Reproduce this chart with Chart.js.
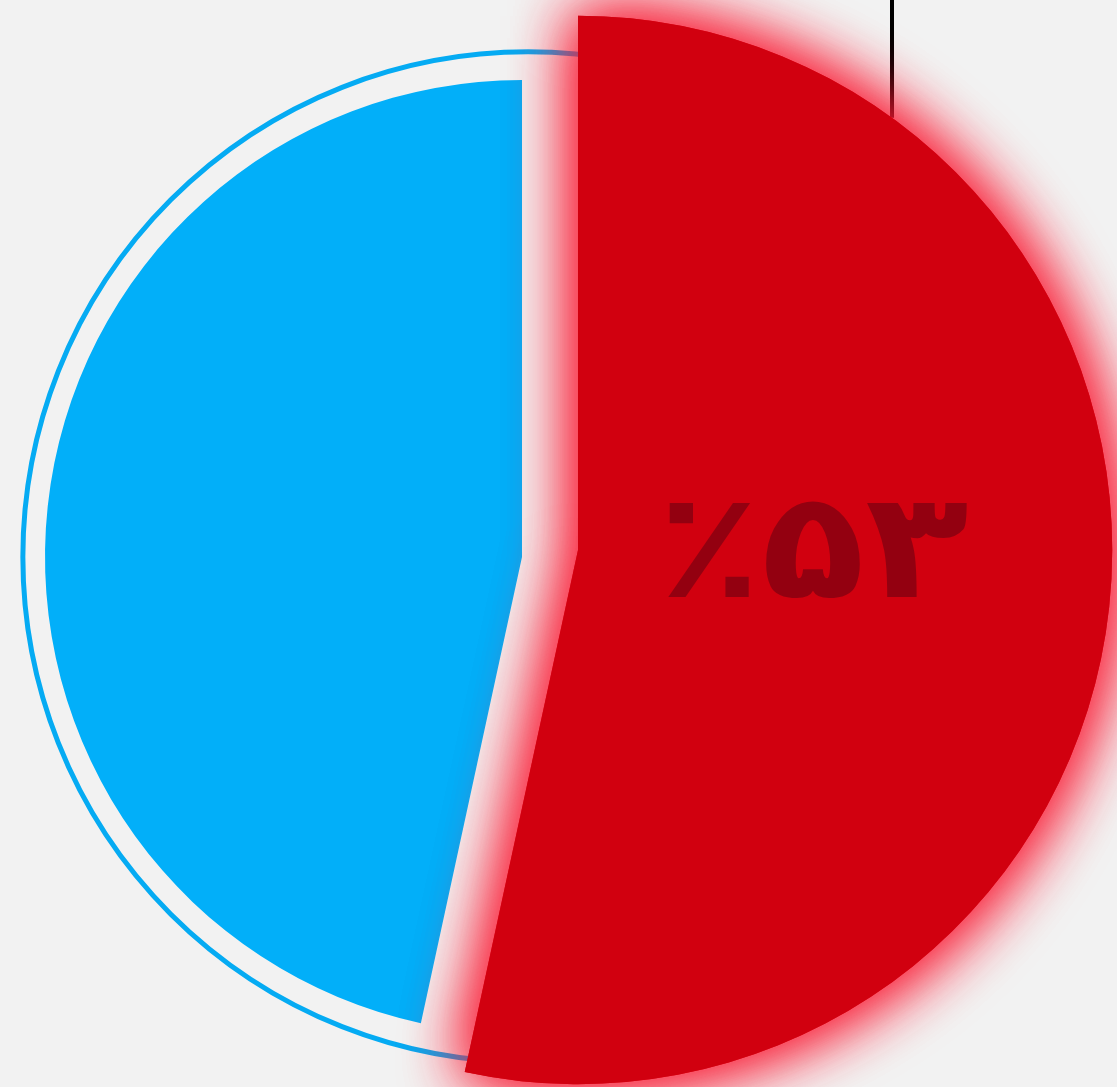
<!DOCTYPE html>
<html lang="fa">
<head>
<meta charset="utf-8">
<title>سهم</title>
<script src="https://cdn.jsdelivr.net/npm/chart.js@4.4.1/dist/chart.umd.min.js"></script>
<style>
  html, body { margin: 0; padding: 0; background: #f2f2f2; }
  #wrap { width: 1117px; height: 1087px; position: relative; }
</style>
</head>
<body>
<div id="wrap"><canvas id="pieChart"></canvas></div>
<script>
// data: blue first so the red slice is painted on top of it
const labels = ['سایر', 'سهم'];
const values = [46.6, 53.4];
const colors = ['#02aff9', '#d1000f'];

const FA_DIGITS = '۰۱۲۳۴۵۶۷۸۹';
const toFa = (n) => String(n).replace(/\d/g, (d) => FA_DIGITS[d]);

const total = values.reduce((a, b) => a + b, 0);
const redShare = values[1] / total;

// look of the exploded red slice and the outer ring
const RED_GROW = 1.12;     // red radius relative to blue
const RED_SHIFT = { x: 50, y: -7 };
const BLUE_SHIFT = { x: -6, y: 0 };
const RING_SCALE = 1.059;
const LEADER_DEG = 36;     // where the leader line touches the red arc

const piePlugin = {
  id: 'piePlugin',
  afterDatasetsUpdate(chart) {
    const meta = chart.getDatasetMeta(0);
    const blue = meta.data[0];
    const red = meta.data[1];
    const r = blue.outerRadius;
    blue.x += BLUE_SHIFT.x;
    blue.y += BLUE_SHIFT.y;
    red.x += RED_SHIFT.x;
    red.y += RED_SHIFT.y;
    red.outerRadius = r * RED_GROW;
    if (!red._glow) {
      const orig = red.draw;
      red.draw = function (ctx, area) {
        ctx.save();
        ctx.shadowColor = 'rgba(250, 25, 50, 1)';
        ctx.shadowBlur = 65;
        orig.call(this, ctx, area);
        orig.call(this, ctx, area);
        ctx.restore();
      };
      red._glow = true;
    }
  },
  beforeDatasetsDraw(chart) {
    const { ctx } = chart;
    const meta = chart.getDatasetMeta(0);
    const blue = meta.data[0];
    const red = meta.data[1];
    const cx = blue.x - BLUE_SHIFT.x;
    const cy = blue.y - BLUE_SHIFT.y;
    ctx.save();
    // outer ring
    ctx.beginPath();
    ctx.arc(cx, cy, blue.outerRadius * RING_SCALE, 0, Math.PI * 2);
    ctx.strokeStyle = '#05abf3';
    ctx.lineWidth = 5;
    ctx.stroke();
    // leader line
    const a = LEADER_DEG * Math.PI / 180;
    const lx = red.x + red.outerRadius * Math.sin(a);
    const ly = red.y - red.outerRadius * Math.cos(a);
    ctx.beginPath();
    ctx.moveTo(lx, 0);
    ctx.lineTo(lx, ly);
    ctx.strokeStyle = '#000';
    ctx.lineWidth = 4;
    ctx.stroke();
    ctx.restore();
  },
  afterDatasetsDraw(chart) {
    const { ctx } = chart;
    const red = chart.getDatasetMeta(0).data[1];
    const text = '٪' + toFa(Math.round(values[1] / total * 100));
    ctx.save();
    ctx.translate(red.x + red.outerRadius * 0.44, red.y + 9);
    ctx.scale(1.15, 1);
    ctx.direction = 'ltr';
    ctx.font = 'bold 148px "DejaVu Sans"';
    ctx.letterSpacing = '22px';
    ctx.fillStyle = '#930010';
    ctx.textAlign = 'center';
    ctx.textBaseline = 'middle';
    ctx.fillText(text, 0, 0);
    ctx.restore();
  },
};

new Chart(document.getElementById('pieChart'), {
  type: 'pie',
  data: {
    labels,
    datasets: [{
      data: values,
      backgroundColor: colors,
      borderWidth: 0,
    }],
  },
  options: {
    responsive: true,
    maintainAspectRatio: false,
    animation: false,
    rotation: redShare * 360,
    layout: { padding: { left: 51, top: 80, right: 112, bottom: 53 } },
    plugins: {
      legend: { display: false },
      tooltip: { enabled: false },
    },
  },
  plugins: [piePlugin],
});
</script>
</body>
</html>
